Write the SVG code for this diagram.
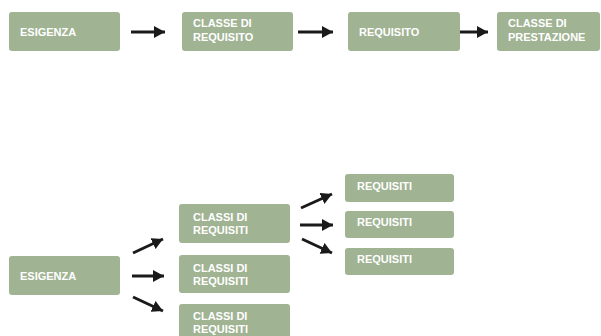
<svg xmlns="http://www.w3.org/2000/svg" width="601" height="336" viewBox="0 0 601 336">
<defs>
<style>
.box{fill:#a0b393;}
.t{font-family:"Liberation Sans",Arial,sans-serif;font-weight:700;font-size:11px;fill:#ffffff;}
.c{stroke:#1a1a1a;stroke-width:3;fill:none;marker-end:url(#ah);}
</style>
<marker id="ah" markerUnits="userSpaceOnUse" viewBox="0 0 11 12" markerWidth="11" markerHeight="12" refX="11" refY="6" orient="auto">
<path d="M0,0 L11,6 L0,12 Z" fill="#1a1a1a"/>
</marker>
</defs>
<rect width="601" height="336" fill="#ffffff"/>
<g id="connectors">
<line class="c" x1="131" y1="32" x2="165" y2="32"/>
<line class="c" x1="298" y1="32" x2="333" y2="32"/>
<line class="c" x1="460" y1="32" x2="488" y2="32"/>
<line class="c" x1="133" y1="253" x2="163" y2="239"/>
<line class="c" x1="132" y1="276" x2="164" y2="276"/>
<line class="c" x1="133" y1="297" x2="163" y2="311"/>
<line class="c" x1="301" y1="208" x2="332" y2="194"/>
<line class="c" x1="300" y1="225" x2="333" y2="225"/>
<line class="c" x1="302" y1="239" x2="332" y2="253"/>
</g>
<g id="n-esigenza-top"><rect class="box" x="9" y="12" width="111" height="39" rx="3"/><text class="t" x="20" y="36">ESIGENZA</text></g>
<g id="n-classe-requisito"><rect class="box" x="182" y="12" width="111" height="39" rx="3"/><text class="t" x="193" y="27">CLASSE DI<tspan x="193" dy="14">REQUISITO</tspan></text></g>
<g id="n-requisito"><rect class="box" x="348" y="12" width="112" height="39" rx="3"/><text class="t" x="359" y="36">REQUISITO</text></g>
<g id="n-classe-prestazione"><rect class="box" x="497" y="12" width="103" height="39" rx="3"/><text class="t" x="508" y="27">CLASSE DI<tspan x="508" dy="14">PRESTAZIONE</tspan></text></g>
<g id="n-esigenza-bottom"><rect class="box" x="9" y="256" width="111" height="39" rx="3"/><text class="t" x="20" y="280">ESIGENZA</text></g>
<g id="n-classi-1"><rect class="box" x="179" y="204" width="111" height="39" rx="3"/><text class="t" x="193" y="221">CLASSI DI<tspan x="193" dy="13">REQUISITI</tspan></text></g>
<g id="n-classi-2"><rect class="box" x="179" y="255" width="111" height="38" rx="3"/><text class="t" x="193" y="272">CLASSI DI<tspan x="193" dy="13">REQUISITI</tspan></text></g>
<g id="n-classi-3"><rect class="box" x="179" y="304" width="111" height="39" rx="3"/><text class="t" x="193" y="320">CLASSI DI<tspan x="193" dy="13">REQUISITI</tspan></text></g>
<g id="n-requisiti-1"><rect class="box" x="345" y="174" width="109" height="28" rx="3"/><text class="t" x="357" y="190">REQUISITI</text></g>
<g id="n-requisiti-2"><rect class="box" x="345" y="211" width="109" height="27" rx="3"/><text class="t" x="357" y="226">REQUISITI</text></g>
<g id="n-requisiti-3"><rect class="box" x="345" y="248" width="109" height="27" rx="3"/><text class="t" x="357" y="263">REQUISITI</text></g>
</svg>
